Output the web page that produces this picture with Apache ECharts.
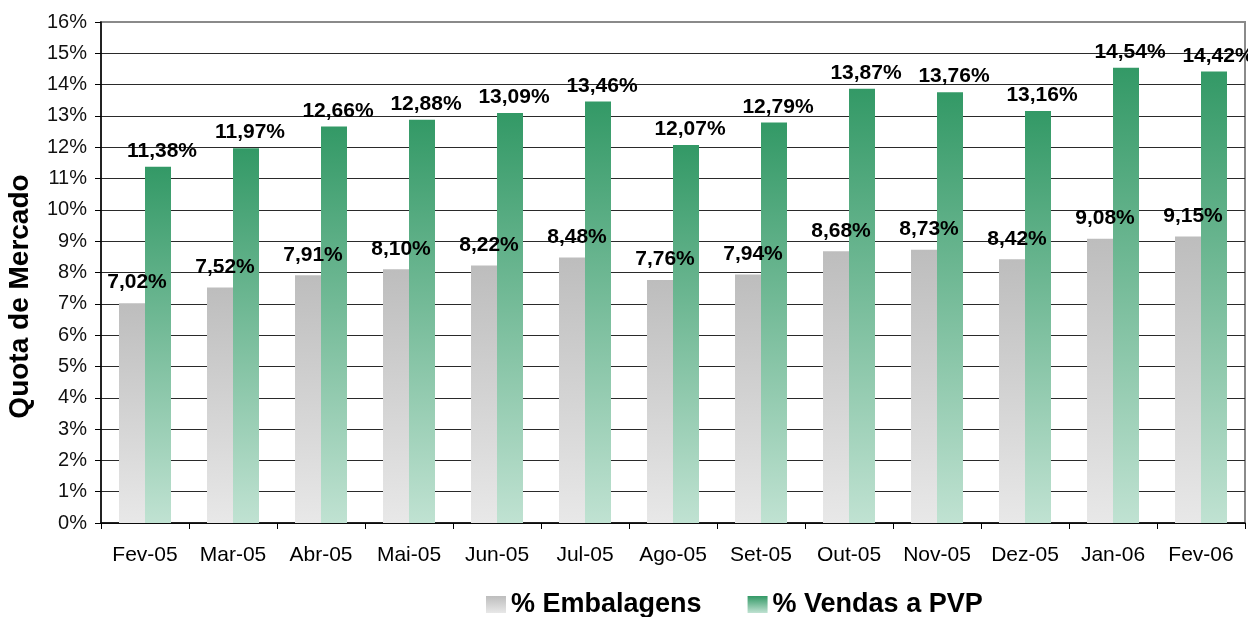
<!DOCTYPE html>
<html>
<head>
<meta charset="utf-8">
<script src="https://cdn.jsdelivr.net/npm/echarts@6/dist/echarts.min.js"></script>
<style>
html,body{margin:0;padding:0;background:#fff;}
#c{width:1248px;height:617px;}
</style>
</head>
<body>
<div id="c"></div>
<script>
const categories = ['Fev-05','Mar-05','Abr-05','Mai-05','Jun-05','Jul-05','Ago-05','Set-05','Out-05','Nov-05','Dez-05','Jan-06','Fev-06'];
const embalagens = [7.02, 7.52, 7.91, 8.10, 8.22, 8.48, 7.76, 7.94, 8.68, 8.73, 8.42, 9.08, 9.15];
const vendasPVP = [11.38, 11.97, 12.66, 12.88, 13.09, 13.46, 12.07, 12.79, 13.87, 13.76, 13.16, 14.54, 14.42];
const seriesNames = ['% Embalagens', '% Vendas a PVP'];
const yMin = 0, yMax = 16, yStep = 1;

const FONT = "'Liberation Sans', Arial, sans-serif";
const fmt = v => v.toFixed(2).replace('.', ',') + '%';

const greyGrad = new echarts.graphic.LinearGradient(0, 0, 0, 1, [
  {offset: 0, color: '#bdbdbd'}, {offset: 1, color: '#e8e8e8'}
]);
const greenGrad = new echarts.graphic.LinearGradient(0, 0, 0, 1, [
  {offset: 0, color: '#339966'}, {offset: 1, color: '#c0e2d2'}
]);

const labelBase = {
  show: true, position: 'top', color: '#000', fontFamily: FONT,
  fontWeight: 'bold', fontSize: 21,
  formatter: p => fmt(p.value)
};

const chart = echarts.init(document.getElementById('c'), null, {renderer: 'canvas'});
chart.setOption({
  animation: false,
  backgroundColor: '#fff',
  grid: {
    left: 101, right: 3, top: 22, bottom: 94,
    containLabel: false, outerBoundsMode: 'none',
    show: true, borderColor: '#8a8a8a', borderWidth: 2, backgroundColor: 'transparent'
  },
  legend: {
    data: seriesNames,
    top: 586, left: 481,
    icon: 'rect',
    itemWidth: 20, itemHeight: 17, itemGap: 46,
    textStyle: {fontFamily: FONT, fontWeight: 'bold', fontSize: 27, color: '#000'}
  },
  xAxis: {
    type: 'category', data: categories,
    axisLine: {lineStyle: {color: '#000', width: 1.5}},
    axisTick: {show: true, length: 6, inside: false, lineStyle: {color: '#000'}},
    axisLabel: {fontFamily: FONT, fontSize: 21, color: '#000', margin: 22, interval: 0}
  },
  yAxis: {
    type: 'value', min: yMin, max: yMax, interval: yStep,
    name: 'Quota de Mercado', nameLocation: 'middle', nameRotate: 90, nameGap: 67,
    nameTextStyle: {fontFamily: FONT, fontWeight: 'bold', fontSize: 28, color: '#000', padding: [0, 48, 0, 0]},
    axisLine: {show: true, lineStyle: {color: '#000', width: 1.5}},
    axisTick: {show: true, length: 6, lineStyle: {color: '#000'}},
    axisLabel: {fontFamily: FONT, fontSize: 20, color: '#111', margin: 14, formatter: v => v + '%'},
    splitLine: {show: true, showMaxLine: false, lineStyle: {color: '#2a2a2a', width: 1}}
  },
  series: [
    {
      name: seriesNames[0], type: 'bar', data: embalagens,
      barWidth: 26, barGap: '0%',
      itemStyle: {color: greyGrad},
      label: Object.assign({}, labelBase, {distance: 10, offset: [5, 0]})
    },
    {
      name: seriesNames[1], type: 'bar', data: vendasPVP,
      barWidth: 26, barGap: '0%',
      itemStyle: {color: greenGrad},
      label: Object.assign({}, labelBase, {distance: 5, offset: [4, 0]})
    }
  ]
});
</script>
</body>
</html>
